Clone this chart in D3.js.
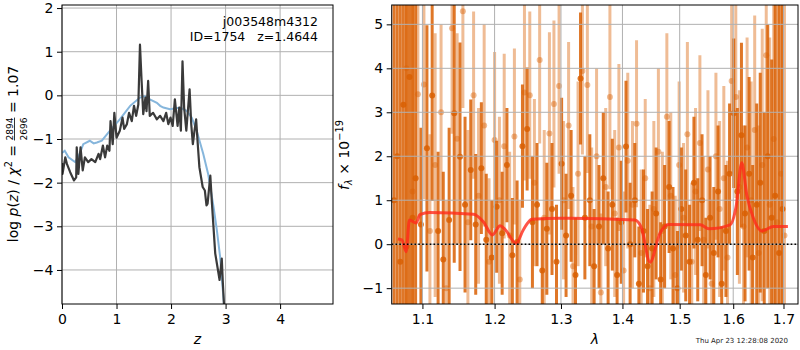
<!DOCTYPE html>
<html>
<head>
<meta charset="utf-8">
<script src="https://cdn.jsdelivr.net/npm/d3@7"></script>
<style>
  body { margin: 0; background: #fff; }
  svg { display: block; font-family: "DejaVu Sans", sans-serif; }
</style>
</head>
<body>
<div id="app"></div>
<script>
// ---- p(z) panel
const pzZ = [0.00,0.01,0.06,0.09,0.15,0.22,0.26,0.27,0.30,0.34,0.38,0.42,0.48,0.54,0.61,0.67,0.70,0.75,0.79,0.83,
  0.87,0.89,0.93,0.96,1.00,1.06,1.11,1.14,1.19,1.23,1.28,1.32,1.36,1.40,1.43,1.46,1.49,1.53,1.55,1.58,
  1.61,1.67,1.74,1.80,1.86,1.91,1.95,1.99,2.03,2.07,2.12,2.15,2.18,2.21,2.24,2.28,2.34,2.37,2.40,2.43,
  2.46,2.49,2.52,2.58,2.62,2.65,2.67,2.72,2.75,2.81,2.89,2.93,2.95,2.97,3.00]
const pzLog = [-1.55,-1.80,-1.42,-1.57,-1.76,-1.95,-1.88,-1.19,-1.80,-1.19,-1.72,-1.42,-1.53,-1.46,-1.53,-1.34,-1.46,-1.15,-1.42,-1.15,
  -1.27,-0.59,-1.12,-0.40,-0.97,-0.81,-0.51,-0.77,-0.66,-0.40,-0.59,-0.24,-0.47,-0.21,1.16,0.33,-0.43,-0.05,-0.36,0.33,
  -0.47,-0.40,-0.55,-0.47,-0.59,-0.40,-0.66,-0.51,-0.70,-0.09,-0.70,-0.28,-0.81,0.78,-0.28,-0.81,0.14,-0.66,-1.12,-0.81,
  -0.55,-1.12,-1.65,-2.10,-2.18,-2.52,-2.48,-1.84,-2.48,-3.62,-4.23,-3.74,-4.30,-4.77,-5.40]
const priorZ = [0.00,0.05,0.12,0.24,0.32,0.39,0.51,0.58,0.64,0.73,0.88,1.06,1.25,1.43,1.52,1.61,1.74,1.80,1.86,1.98,
  2.17,2.29,2.38,2.47,2.59,2.68,2.78,2.84,2.90,2.97,3.00]
const priorLog = [-1.32,-1.27,-1.42,-1.53,-1.35,-1.12,-1.04,-1.10,-1.08,-1.04,-0.81,-0.55,-0.24,-0.05,-0.02,-0.09,-0.17,-0.24,-0.28,-0.32,
  -0.28,-0.36,-0.51,-0.81,-1.34,-1.80,-2.56,-3.09,-3.70,-4.77,-5.30]
const zTicks = [0, 1, 2, 3, 4]
const pzTicks = [-4, -3, -2, -1, 0, 1, 2]

// ---- spectrum panel (flux in 1e-19)
const lamA = [1.063,1.067,1.071,1.075,1.079,1.083,1.087,1.091,1.098,1.106,1.113,1.121,1.128,1.136,1.143,1.151,1.158,1.166,1.173,1.181,
  1.188,1.196,1.203,1.211,1.218,1.226,1.233,1.241,1.248,1.256,1.263,1.271,1.278,1.286,1.293,1.301,1.308,1.316,1.323,1.331,
  1.338,1.346,1.353,1.361,1.368,1.376,1.383,1.391,1.398,1.406,1.413,1.421,1.428,1.436,1.443,1.451,1.458,1.466,1.473,1.481,
  1.488,1.496,1.503,1.511,1.518,1.526,1.533,1.541,1.548,1.556,1.563,1.571,1.578,1.586,1.593,1.601,1.608,1.616,1.623,1.631,
  1.638,1.646,1.653,1.661,1.668,1.676,1.683,1.691,1.698]
const fluxA = [1.00,2.00,-0.40,3.17,-0.05,3.80,0.60,1.50,0.45,2.18,3.38,0.30,-0.35,0.55,2.98,1.99,0.90,1.69,0.45,1.73,
  0.10,-0.30,0.85,0.25,1.80,-0.25,0.05,2.23,2.62,0.50,0.90,-0.60,0.35,0.80,-0.40,1.83,0.20,1.10,-0.70,3.77,
  0.60,1.00,-0.50,0.40,1.50,-0.10,0.90,-0.70,0.50,2.22,0.00,1.00,-0.90,0.30,-0.50,-0.10,0.70,-0.80,0.40,1.30,
  -0.10,-1.00,0.80,0.20,-0.40,1.40,0.10,1.00,-0.70,0.60,-0.20,1.20,-0.90,0.30,1.60,2.98,1.20,2.48,0.70,1.60,
  -0.30,0.90,1.40,0.30,2.00,0.60,1.10,-0.20,0.80]
const errA = [6.5,6.5,6.5,6.5,6.5,6.5,6.0,4.0,2.2,2.8,2.4,1.8,2.0,2.1,3.4,2.6,2.0,1.6,1.6,1.5,
  1.5,1.3,1.5,1.4,1.3,1.3,1.4,1.4,1.4,1.5,1.4,1.2,1.5,1.5,1.3,1.5,1.4,1.5,1.3,1.5,
  1.4,1.5,1.3,1.4,1.5,1.3,1.5,1.3,1.4,1.5,1.4,1.3,1.3,1.4,1.3,1.3,1.5,1.3,1.4,1.5,
  1.4,1.3,1.4,1.5,1.3,1.5,1.4,1.5,1.3,1.4,1.5,1.5,1.3,1.5,1.6,1.7,1.9,2.1,2.0,2.2,
  2.1,2.3,2.5,2.7,3.0,3.6,4.5,5.8,6.5]

const lamB = [1.079,1.087,1.094,1.102,1.110,1.117,1.125,1.132,1.140,1.147,1.155,1.162,1.170,1.177,1.185,1.192,1.200,1.207,1.214,1.222,
  1.229,1.237,1.244,1.252,1.259,1.267,1.274,1.282,1.289,1.297,1.304,1.312,1.319,1.327,1.334,1.342,1.349,1.357,1.364,1.372,
  1.379,1.387,1.394,1.402,1.409,1.417,1.424,1.432,1.439,1.447,1.454,1.462,1.469,1.477,1.484,1.492,1.499,1.507,1.514,1.522,
  1.529,1.537,1.544,1.552,1.559,1.567,1.574,1.582,1.589,1.597,1.605,1.612,1.620,1.627,1.635,1.642,1.650,1.657,1.665,1.672,
  1.680,1.687,1.695,1.702]
const fluxB = [4.00,1.20,3.41,3.63,0.30,1.80,3.00,-1.00,4.91,2.40,5.30,0.50,3.39,1.10,2.70,-0.40,2.37,1.00,2.23,0.20,
  2.45,-0.80,3.45,3.39,1.40,4.19,0.60,2.52,3.19,3.60,1.00,2.70,-0.50,1.60,3.94,3.62,0.40,2.00,-1.10,1.30,
  3.35,0.70,2.20,-0.60,1.90,0.90,2.74,-0.20,1.50,-1.00,0.80,2.10,0.30,2.90,1.10,-0.70,1.80,0.60,2.50,-0.40,
  1.20,2.30,0.10,1.70,-0.90,2.00,0.80,1.50,-0.30,3.71,3.35,1.30,0.40,2.20,1.00,2.60,-0.20,1.80,4.30,0.90,
  2.39,0.50,1.60,0.20]
const errB = [6.5,6.5,2.8,2.6,2.2,3.0,2.0,2.0,2.4,2.4,2.2,2.1,1.9,2.0,2.3,1.9,2.0,1.9,2.1,1.9,
  2.0,1.8,2.0,1.9,1.9,1.9,2.0,2.3,1.9,2.0,1.8,1.9,1.8,2.1,1.9,2.0,1.8,2.0,1.8,1.8,
  2.1,1.9,1.9,1.8,2.0,1.9,1.9,1.9,1.8,1.9,2.0,1.9,1.8,1.9,1.9,1.8,1.9,1.7,2.1,1.8,
  1.9,2.0,1.9,1.8,1.9,1.9,2.0,2.1,2.2,2.1,2.3,2.2,2.3,2.5,2.7,2.6,2.9,3.1,3.3,3.8,
  4.3,5.3,6.5,6.5]

const modelLam = [1.068,1.073,1.0786,1.0829,1.0917,1.0967,1.1098,1.1697,1.1838,1.1968,1.2080,1.2155,1.2315,1.2424,1.2551,1.2986,
  1.3143,1.4212,1.4327,1.4472,1.4648,1.4797,1.5379,1.5534,1.5939,1.6055,1.6166,1.6264,1.6395,1.6562,1.6797,1.7091]
const modelFlux = [0.12,0.10,-0.17,0.55,0.48,0.67,0.72,0.68,0.51,0.21,0.42,0.33,0.02,0.33,0.57,0.59,
  0.59,0.55,0.36,-0.41,0.25,0.45,0.44,0.35,0.44,0.85,1.85,1.12,0.59,0.30,0.40,0.40]
const lamTicks = [1.1, 1.2, 1.3, 1.4, 1.5, 1.6, 1.7]
const fluxTicks = [-1, 0, 1, 2, 3, 4, 5]

const w = 800
const h = 350
const padTop = 5
const padBottom = 304

const svg = d3.select('#app').append('svg')
  .attr('width', w).attr('height', h)
svg.append('rect').attr('width', w).attr('height', h).attr('fill', '#fff')

const grid = '#b0b0b0'
const fmtMinus = d => d3.format('d')(d).replace('-', '\u2212')

// ===== left panel =====
const xz = d3.scaleLinear().domain([0, 4.97]).range([62, 333])
const yp = d3.scaleLinear().domain([-4.78, 2.07]).range([padBottom, padTop])

svg.append('clipPath').attr('id', 'clipL')
  .append('rect').attr('x', 62).attr('y', padTop).attr('width', 333 - 62).attr('height', padBottom - padTop)

const gL = svg.append('g')
gL.selectAll('.vg').data(zTicks).enter().append('line')
  .attr('x1', d => xz(d)).attr('x2', d => xz(d)).attr('y1', padTop).attr('y2', padBottom)
  .attr('stroke', grid).attr('stroke-width', 1)
gL.selectAll('.hg').data(pzTicks).enter().append('line')
  .attr('x1', 62).attr('x2', 333).attr('y1', d => yp(d)).attr('y2', d => yp(d))
  .attr('stroke', grid).attr('stroke-width', 1)

const lineL = d3.line().x(d => xz(d[0])).y(d => yp(d[1]))
gL.append('path')
  .datum(priorZ.map((z, i) => [z, priorLog[i]]))
  .attr('d', lineL).attr('fill', 'none')
  .attr('stroke', '#86b6dc').attr('stroke-width', 2)
  .attr('clip-path', 'url(#clipL)')
gL.append('path')
  .datum(pzZ.map((z, i) => [z, pzLog[i]]))
  .attr('d', lineL).attr('fill', 'none')
  .attr('stroke', '#3a3a3a').attr('stroke-width', 2.2).attr('stroke-linejoin', 'round')
  .attr('clip-path', 'url(#clipL)')

svg.append('g').attr('transform', 'translate(0,' + padBottom + ')')
  .call(d3.axisBottom(xz).tickValues(zTicks).tickSize(5).tickPadding(5).tickFormat(d3.format('d')))
  .call(g => g.select('.domain').remove())
  .style('font-size', '14px').style('font-family', 'DejaVu Sans')
svg.append('g').attr('transform', 'translate(62,0)')
  .call(d3.axisLeft(yp).tickValues(pzTicks).tickSize(5).tickPadding(3.5).tickFormat(fmtMinus))
  .call(g => g.select('.domain').remove())
  .style('font-size', '14px').style('font-family', 'DejaVu Sans')

svg.append('rect').attr('x', 62).attr('y', padTop).attr('width', 333 - 62).attr('height', padBottom - padTop)
  .attr('fill', 'none').attr('stroke', '#000').attr('stroke-width', 1)

svg.append('text').attr('x', 318).attr('y', 26).attr('text-anchor', 'end')
  .style('font-size', '12.5px').text('j003548m4312')
svg.append('text').attr('x', 318).attr('y', 41).attr('text-anchor', 'end')
  .style('font-size', '12.5px').style('white-space', 'pre').text('ID=1754   z=1.4644')

svg.append('text').attr('x', 197.5).attr('y', 344).attr('text-anchor', 'middle')
  .style('font-size', '14px').style('font-style', 'italic').text('z')

// y label with fraction
const ylabG = svg.append('g').attr('transform', 'translate(18,154) rotate(-90)')
const ylab = ylabG.append('text').attr('text-anchor', 'middle').style('font-size', '14px')
ylab.append('tspan').text('log ')
ylab.append('tspan').style('font-style', 'italic').text('p')
ylab.append('tspan').text('(')
ylab.append('tspan').style('font-style', 'italic').text('z')
ylab.append('tspan').text(') / ')
ylab.append('tspan').style('font-style', 'italic').text('\u03c7')
ylab.append('tspan').attr('dy', -6).style('font-size', '9.8px').text('2')
ylab.append('tspan').attr('dy', 6).text(' = ')
ylab.append('tspan').attr('dy', -5.5).style('font-size', '9px').text('2894')
ylab.append('tspan').attr('dx', -22.9).attr('dy', 14).style('font-size', '9px').text('2696')
ylab.append('tspan').attr('dy', -8.5).text(' = 1.07')
const tn = ylab.node()
const fx0 = tn.getStartPositionOfChar(16).x
const fx1 = tn.getEndPositionOfChar(19).x
ylabG.append('line').attr('x1', fx0).attr('x2', fx1).attr('y1', -3.5).attr('y2', -3.5)
  .attr('stroke', '#000').attr('stroke-width', 0.8)

// ===== right panel =====
const xl = d3.scaleLog().domain([1.06, 1.73]).range([391.7, 798])
const yf = d3.scaleLinear().domain([-1.36, 5.44]).range([padBottom, padTop])

svg.append('clipPath').attr('id', 'clipR')
  .append('rect').attr('x', 391.7).attr('y', padTop).attr('width', 798 - 391.7).attr('height', padBottom - padTop)

const gR = svg.append('g').attr('clip-path', 'url(#clipR)')
const orange = '#d95f02'

const drawSeries = function (lam, flux, err, op) {
  const data = lam.map((l, i) => ({ l: l, f: flux[i], e: err[i] }))
  const g = gR.append('g')
  g.selectAll('line').data(data).enter().append('line')
    .attr('x1', d => xl(d.l)).attr('x2', d => xl(d.l))
    .attr('y1', d => yf(d.f - d.e)).attr('y2', d => yf(d.f + d.e))
    .attr('stroke', orange).attr('stroke-width', 3).attr('stroke-opacity', op)
  g.selectAll('circle').data(data).enter().append('circle')
    .attr('cx', d => xl(d.l)).attr('cy', d => yf(d.f)).attr('r', 3)
    .attr('fill', orange).attr('fill-opacity', op)
}
drawSeries(lamB, fluxB, errB, 0.42)
drawSeries(lamA, fluxA, errA, 0.85)

gR.selectAll('.vg').data(lamTicks).enter().append('line')
  .attr('x1', d => xl(d)).attr('x2', d => xl(d)).attr('y1', padTop).attr('y2', padBottom)
  .attr('stroke', grid).attr('stroke-width', 1)
gR.selectAll('.hg').data(fluxTicks).enter().append('line')
  .attr('x1', 391.7).attr('x2', 798).attr('y1', d => yf(d)).attr('y2', d => yf(d))
  .attr('stroke', grid).attr('stroke-width', 1)

gR.append('path')
  .datum(modelLam.map((l, i) => [l, modelFlux[i]]))
  .attr('d', d3.line().x(d => xl(d[0])).y(d => yf(d[1])).curve(d3.curveMonotoneX))
  .attr('fill', 'none').attr('stroke', '#ff2a1a').attr('stroke-opacity', 0.8)
  .attr('stroke-width', 3)

gR.append('line').attr('x1', 391.7).attr('x2', 798).attr('y1', yf(0)).attr('y2', yf(0))
  .attr('stroke', '#000').attr('stroke-width', 1.6).attr('stroke-dasharray', '1.6,2.2')

svg.append('g').attr('transform', 'translate(0,' + padBottom + ')')
  .call(d3.axisBottom(xl).tickValues(lamTicks).tickSize(5).tickPadding(5).tickFormat(d3.format('.1f')))
  .call(g => g.select('.domain').remove())
  .style('font-size', '14px').style('font-family', 'DejaVu Sans')
svg.append('g').attr('transform', 'translate(391.7,0)')
  .call(d3.axisLeft(yf).tickValues(fluxTicks).tickSize(5).tickPadding(3.5).tickFormat(fmtMinus))
  .call(g => g.select('.domain').remove())
  .style('font-size', '14px').style('font-family', 'DejaVu Sans')

svg.append('rect').attr('x', 391.7).attr('y', padTop).attr('width', 798 - 391.7).attr('height', padBottom - padTop)
  .attr('fill', 'none').attr('stroke', '#000').attr('stroke-width', 1)

svg.append('text').attr('x', 595).attr('y', 344).attr('text-anchor', 'middle')
  .style('font-size', '14px').style('font-style', 'italic').text('\u03bb')

const flab = svg.append('text').attr('transform', 'translate(349,155) rotate(-90)')
  .attr('text-anchor', 'middle').style('font-size', '14px')
flab.append('tspan').style('font-style', 'italic').text('f')
flab.append('tspan').attr('dy', 3).style('font-size', '9.8px').style('font-style', 'italic').text('\u03bb')
flab.append('tspan').attr('dy', -3).text(' \u00d7 10')
flab.append('tspan').attr('dy', -6).style('font-size', '9.8px').text('\u221219')

svg.append('text').attr('x', 788).attr('y', 343).attr('text-anchor', 'end')
  .style('font-size', '7px').attr('fill', '#222').text('Thu Apr 23 12:28:08 2020')
</script>
</body>
</html>
